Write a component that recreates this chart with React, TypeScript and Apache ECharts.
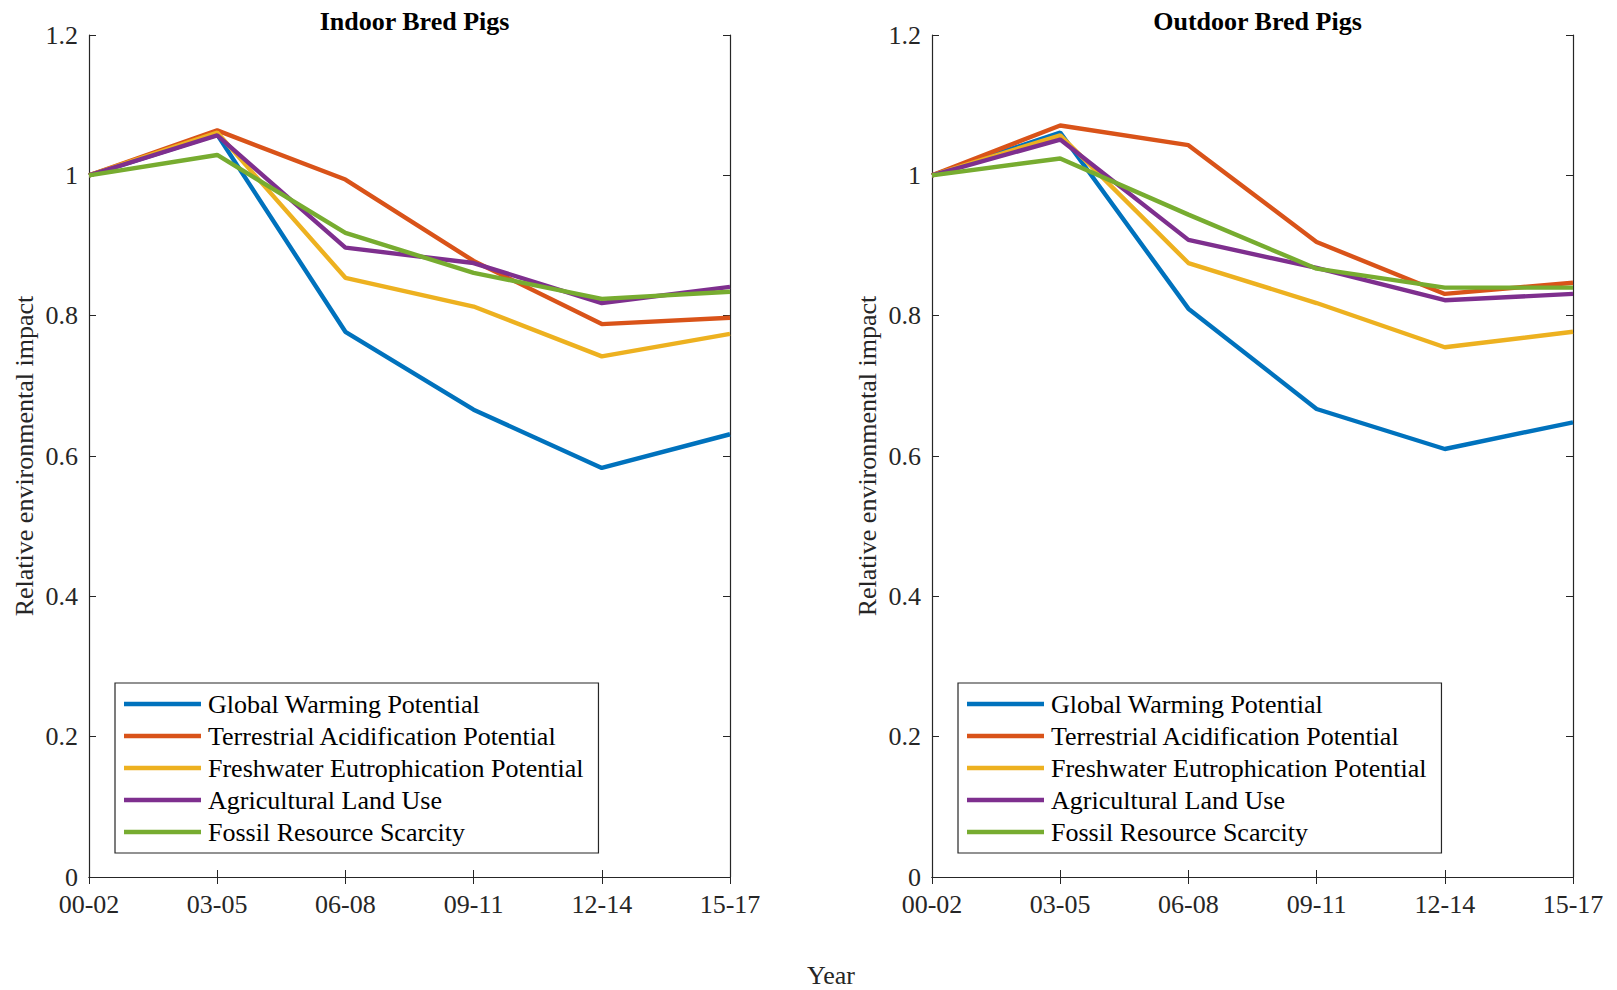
import React, { useEffect, useRef } from "react";
import * as echarts from "echarts";

const categories = ["00-02", "03-05", "06-08", "09-11", "12-14", "15-17"];
const seriesNames = [
  "Global Warming Potential",
  "Terrestrial Acidification Potential",
  "Freshwater Eutrophication Potential",
  "Agricultural Land Use",
  "Fossil Resource Scarcity",
];
const seriesColors = ["#0072BD", "#D95319", "#EDB120", "#7E2F8E", "#77AC30"];

const indoorGWP = [1, 1.058, 0.777, 0.666, 0.583, 0.631];
const indoorTAP = [1, 1.064, 0.994, 0.878, 0.788, 0.797];
const indoorFEP = [1, 1.061, 0.854, 0.813, 0.742, 0.774];
const indoorALU = [1, 1.057, 0.897, 0.875, 0.818, 0.841];
const indoorFRS = [1, 1.029, 0.918, 0.861, 0.824, 0.834];

const outdoorGWP = [1, 1.061, 0.81, 0.667, 0.61, 0.648];
const outdoorTAP = [1, 1.071, 1.043, 0.905, 0.831, 0.847];
const outdoorFEP = [1, 1.057, 0.875, 0.818, 0.755, 0.777];
const outdoorALU = [1, 1.051, 0.908, 0.868, 0.822, 0.831];
const outdoorFRS = [1, 1.024, 0.944, 0.867, 0.84, 0.84];

const titles = ["Indoor Bred Pigs", "Outdoor Bred Pigs"];
const yAxisName = "Relative environmental impact";
const xAxisName = "Year";

const FONT = "'Liberation Serif', 'Times New Roman', serif";
const AXIS_COLOR = "#262626";
const FS = 26;

export default function App() {
  const ref = useRef<HTMLDivElement>(null);

  useEffect(() => {
    if (!ref.current) return;
    const chart = echarts.init(ref.current, undefined, { renderer: "svg" });

    const panels = [
      [indoorGWP, indoorTAP, indoorFEP, indoorALU, indoorFRS],
      [outdoorGWP, outdoorTAP, outdoorFEP, outdoorALU, outdoorFRS],
    ];
    const gridLefts = [89, 932];
    const gridWidth = 641;
    const gridTop = 35;
    const gridHeight = 842;

    const grids = gridLefts.map((l) => ({
      left: l,
      top: gridTop,
      width: gridWidth,
      height: gridHeight,
      containLabel: false,
    }));

    const xAxes: any[] = [];
    const yAxes: any[] = [];
    gridLefts.forEach((_, g) => {
      xAxes.push({
        type: "category",
        gridIndex: g,
        data: categories,
        boundaryGap: false,
        position: "bottom",
        axisLine: { lineStyle: { color: AXIS_COLOR, width: 1.2 } },
        axisTick: { inside: true, length: 7, lineStyle: { color: AXIS_COLOR } },
        axisLabel: {
          color: AXIS_COLOR,
          fontFamily: FONT,
          fontSize: FS,
          lineHeight: 20,
          margin: 17,
          interval: 0,
        },
        splitLine: { show: false },
      });
      xAxes.push({
        type: "category",
        gridIndex: g,
        data: categories,
        boundaryGap: false,
        position: "top",
        axisLine: { lineStyle: { color: AXIS_COLOR, width: 1.2 } },
        axisTick: { inside: true, length: 7, lineStyle: { color: AXIS_COLOR } },
        axisLabel: { show: false },
        splitLine: { show: false },
      });
      yAxes.push({
        type: "value",
        gridIndex: g,
        min: 0,
        max: 1.2,
        interval: 0.2,
        position: "left",
        name: yAxisName,
        nameLocation: "middle",
        nameGap: 52,
        nameTextStyle: { color: AXIS_COLOR, fontFamily: FONT, fontSize: FS },
        axisLine: { show: true, lineStyle: { color: AXIS_COLOR, width: 1.2 } },
        axisTick: { show: true, inside: true, length: 7, lineStyle: { color: AXIS_COLOR } },
        axisLabel: {
          color: AXIS_COLOR,
          fontFamily: FONT,
          fontSize: FS,
          lineHeight: 20,
          padding: [0, 0, 3, 0],
          margin: 11,
          formatter: (v: number) => String(Number(v.toFixed(1))),
        },
        splitLine: { show: false },
      });
      yAxes.push({
        type: "value",
        gridIndex: g,
        min: 0,
        max: 1.2,
        interval: 0.2,
        position: "right",
        axisLine: { show: true, lineStyle: { color: AXIS_COLOR, width: 1.2 } },
        axisTick: { show: true, inside: true, length: 7, lineStyle: { color: AXIS_COLOR } },
        axisLabel: { show: false },
        splitLine: { show: false },
      });
    });

    const series: any[] = [];
    panels.forEach((panel, g) => {
      panel.forEach((vals, i) => {
        series.push({
          type: "line",
          name: seriesNames[i],
          xAxisIndex: g * 2,
          yAxisIndex: g * 2,
          data: vals,
          symbol: "none",
          lineStyle: { color: seriesColors[i], width: 4.4 },
          itemStyle: { color: seriesColors[i] },
          color: seriesColors[i],
        });
      });
    });

    const legendLefts = [115, 958];
    const legends = legendLefts.map((l) => ({
      show: true,
      orient: "vertical",
      left: l,
      top: 683,
      data: seriesNames,
      icon: "rect",
      itemWidth: 77,
      itemHeight: 4.4,
      itemGap: 6,
      padding: [8, 15, 8, 9],
      backgroundColor: "#fff",
      borderColor: AXIS_COLOR,
      borderWidth: 1.2,
      borderRadius: 0,
      selectedMode: false,
      textStyle: {
        color: "#000",
        fontFamily: FONT,
        fontSize: FS,
        lineHeight: 26,
        padding: [0, 0, 0, 2],
      },
    }));

    chart.setOption({
      animation: false,
      backgroundColor: "#fff",
      title: titles.map((t, g) => ({
        text: t,
        left: gridLefts[g] + gridWidth / 2,
        top: 3,
        textAlign: "center",
        textStyle: { color: "#000", fontFamily: FONT, fontSize: FS, fontWeight: "bold" },
      })),
      grid: grids,
      xAxis: xAxes,
      yAxis: yAxes,
      legend: legends,
      series,
      graphic: [
        {
          type: "text",
          left: 832 - 25,
          top: 962,
          style: { text: xAxisName, fill: AXIS_COLOR, font: `${FS}px ${FONT}` },
        },
      ],
    });

    return () => chart.dispose();
  }, []);

  return (
    <div
      ref={ref}
      style={{ position: "fixed", left: 0, top: 0, width: 1617, height: 990 }}
    />
  );
}
